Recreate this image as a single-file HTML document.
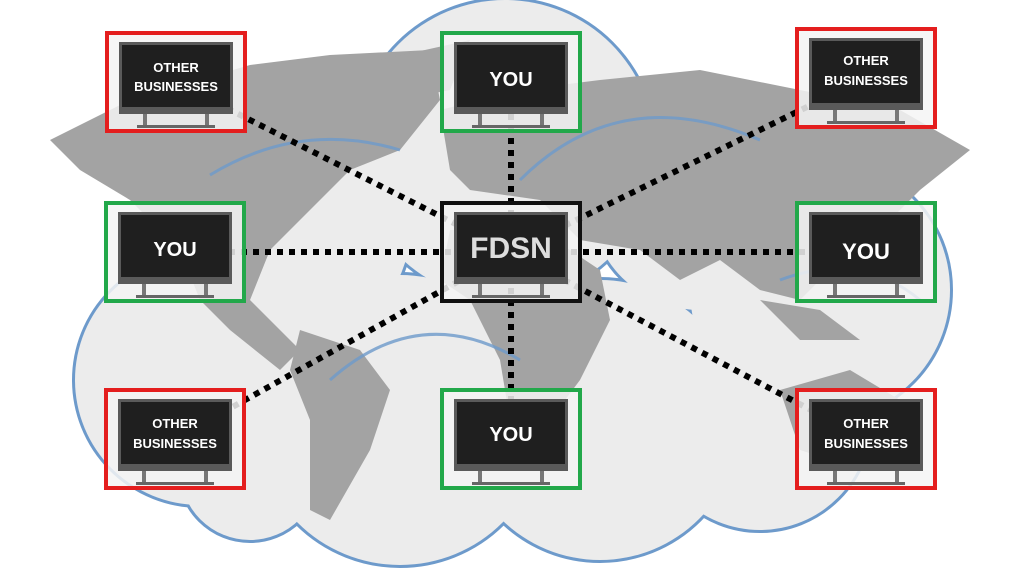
<!DOCTYPE html><html><head><style>body{margin:0;width:1024px;height:576px;overflow:hidden;background:#fff}</style></head><body>
<svg width="1024" height="576" viewBox="0 0 1024 576" xmlns="http://www.w3.org/2000/svg" font-family="Liberation Sans, sans-serif">
<defs>
<g id="cl">
<circle cx="505" cy="150" r="150"/><circle cx="700" cy="200" r="110"/><circle cx="820" cy="290" r="130"/>
<circle cx="300" cy="230" r="110"/><circle cx="200" cy="380" r="125"/><circle cx="400" cy="420" r="145"/>
<circle cx="600" cy="420" r="140"/><circle cx="760" cy="420" r="110"/><circle cx="250" cy="470" r="70"/>
</g>
</defs>
<g fill="none" stroke="#6d9acb" stroke-width="6"><use href="#cl"/></g>
<g fill="#ececec"><use href="#cl"/></g>
<g fill="#a3a3a3">
<path d="M50 140 L130 100 L250 65 L330 55 L430 50 L440 100 L400 150 L350 170 L310 210 L270 250 L250 300 L280 330 L300 350 L280 370 L230 330 L200 300 L180 250 L130 200 L80 170Z"/>
<path d="M300 330 L360 350 L390 390 L370 450 L330 520 L310 510 L310 420 L290 370Z"/>
<path d="M440 110 L520 90 L600 80 L700 70 L800 90 L900 110 L970 150 L920 190 L880 230 L840 260 L800 300 L760 290 L720 260 L680 280 L640 250 L580 240 L540 200 L470 190 L450 170Z"/>
<path d="M450 230 L540 230 L600 270 L610 320 L580 380 L550 420 L510 420 L500 360 L470 300 L440 280Z"/>
<path d="M780 390 L850 370 L900 400 L910 450 L860 470 L800 450Z"/>
<path d="M760 300 L820 310 L860 340 L800 340Z"/>
<path d="M380 60 L470 40 L450 90 L400 100Z"/>
</g>
<g fill="none" stroke="#6d9acb" stroke-width="3" opacity=".8">
<path d="M210 175 Q300 120 400 150"/><path d="M520 180 Q620 80 760 140"/><path d="M330 380 Q420 300 520 360"/><path d="M780 280 Q860 250 920 300"/>
</g>
<g stroke="#000" stroke-width="6" stroke-dasharray="6 6" fill="none">
<line x1="511" y1="252" x2="175" y2="82"/><line x1="511" y1="252" x2="511" y2="82"/><line x1="511" y1="252" x2="866" y2="78"/>
<line x1="511" y1="252" x2="175" y2="252"/><line x1="511" y1="252" x2="866" y2="252"/>
<line x1="511" y1="252" x2="175" y2="439"/><line x1="511" y1="252" x2="511" y2="439"/><line x1="511" y1="252" x2="866" y2="439"/>
</g>
<g font-weight="bold" fill="#fff" text-anchor="middle">
<g transform="translate(105,31)"><rect x="2" y="2" width="138" height="98" fill="#f4f4f4" fill-opacity=".85" stroke="#e41e1e" stroke-width="4"/><rect x="14" y="11" width="114" height="72" fill="#5a5a5a"/><rect x="17" y="14" width="108" height="62" fill="#1f1f1f"/><rect x="38" y="83" width="4" height="12" fill="#777"/><rect x="100" y="83" width="4" height="12" fill="#777"/><rect x="32" y="94" width="78" height="3" fill="#666"/><text x="71" y="41" font-size="13">OTHER</text><text x="71" y="60" font-size="13">BUSINESSES</text></g>
<g transform="translate(440,31)"><rect x="2" y="2" width="138" height="98" fill="#f4f4f4" fill-opacity=".85" stroke="#22a84a" stroke-width="4"/><rect x="14" y="11" width="114" height="72" fill="#5a5a5a"/><rect x="17" y="14" width="108" height="62" fill="#1f1f1f"/><rect x="38" y="83" width="4" height="12" fill="#777"/><rect x="100" y="83" width="4" height="12" fill="#777"/><rect x="32" y="94" width="78" height="3" fill="#666"/><text x="71" y="55" font-size="20">YOU</text></g>
<g transform="translate(795,27)"><rect x="2" y="2" width="138" height="98" fill="#f4f4f4" fill-opacity=".85" stroke="#e41e1e" stroke-width="4"/><rect x="14" y="11" width="114" height="72" fill="#5a5a5a"/><rect x="17" y="14" width="108" height="62" fill="#1f1f1f"/><rect x="38" y="83" width="4" height="12" fill="#777"/><rect x="100" y="83" width="4" height="12" fill="#777"/><rect x="32" y="94" width="78" height="3" fill="#666"/><text x="71" y="38" font-size="13">OTHER</text><text x="71" y="58" font-size="13">BUSINESSES</text></g>
<g transform="translate(104,201)"><rect x="2" y="2" width="138" height="98" fill="#f4f4f4" fill-opacity=".85" stroke="#22a84a" stroke-width="4"/><rect x="14" y="11" width="114" height="72" fill="#5a5a5a"/><rect x="17" y="14" width="108" height="62" fill="#1f1f1f"/><rect x="38" y="83" width="4" height="12" fill="#777"/><rect x="100" y="83" width="4" height="12" fill="#777"/><rect x="32" y="94" width="78" height="3" fill="#666"/><text x="71" y="55" font-size="20">YOU</text></g>
<g transform="translate(440,201)"><rect x="2" y="2" width="138" height="98" fill="#f4f4f4" fill-opacity=".85" stroke="#111" stroke-width="4"/><rect x="14" y="11" width="114" height="72" fill="#5a5a5a"/><rect x="17" y="14" width="108" height="62" fill="#1f1f1f"/><rect x="38" y="83" width="4" height="12" fill="#777"/><rect x="100" y="83" width="4" height="12" fill="#777"/><rect x="32" y="94" width="78" height="3" fill="#666"/><text x="71" y="57" font-size="30" fill="#ddd">FDSN</text></g>
<g transform="translate(795,201)"><rect x="2" y="2" width="138" height="98" fill="#f4f4f4" fill-opacity=".85" stroke="#22a84a" stroke-width="4"/><rect x="14" y="11" width="114" height="72" fill="#5a5a5a"/><rect x="17" y="14" width="108" height="62" fill="#1f1f1f"/><rect x="38" y="83" width="4" height="12" fill="#777"/><rect x="100" y="83" width="4" height="12" fill="#777"/><rect x="32" y="94" width="78" height="3" fill="#666"/><text x="71" y="58" font-size="22">YOU</text></g>
<g transform="translate(104,388)"><rect x="2" y="2" width="138" height="98" fill="#f4f4f4" fill-opacity=".85" stroke="#e41e1e" stroke-width="4"/><rect x="14" y="11" width="114" height="72" fill="#5a5a5a"/><rect x="17" y="14" width="108" height="62" fill="#1f1f1f"/><rect x="38" y="83" width="4" height="12" fill="#777"/><rect x="100" y="83" width="4" height="12" fill="#777"/><rect x="32" y="94" width="78" height="3" fill="#666"/><text x="71" y="40" font-size="13">OTHER</text><text x="71" y="60" font-size="13">BUSINESSES</text></g>
<g transform="translate(440,388)"><rect x="2" y="2" width="138" height="98" fill="#f4f4f4" fill-opacity=".85" stroke="#22a84a" stroke-width="4"/><rect x="14" y="11" width="114" height="72" fill="#5a5a5a"/><rect x="17" y="14" width="108" height="62" fill="#1f1f1f"/><rect x="38" y="83" width="4" height="12" fill="#777"/><rect x="100" y="83" width="4" height="12" fill="#777"/><rect x="32" y="94" width="78" height="3" fill="#666"/><text x="71" y="53" font-size="20">YOU</text></g>
<g transform="translate(795,388)"><rect x="2" y="2" width="138" height="98" fill="#f4f4f4" fill-opacity=".85" stroke="#e41e1e" stroke-width="4"/><rect x="14" y="11" width="114" height="72" fill="#5a5a5a"/><rect x="17" y="14" width="108" height="62" fill="#1f1f1f"/><rect x="38" y="83" width="4" height="12" fill="#777"/><rect x="100" y="83" width="4" height="12" fill="#777"/><rect x="32" y="94" width="78" height="3" fill="#666"/><text x="71" y="40" font-size="13">OTHER</text><text x="71" y="60" font-size="13">BUSINESSES</text></g>
</g>
</svg></body></html>
